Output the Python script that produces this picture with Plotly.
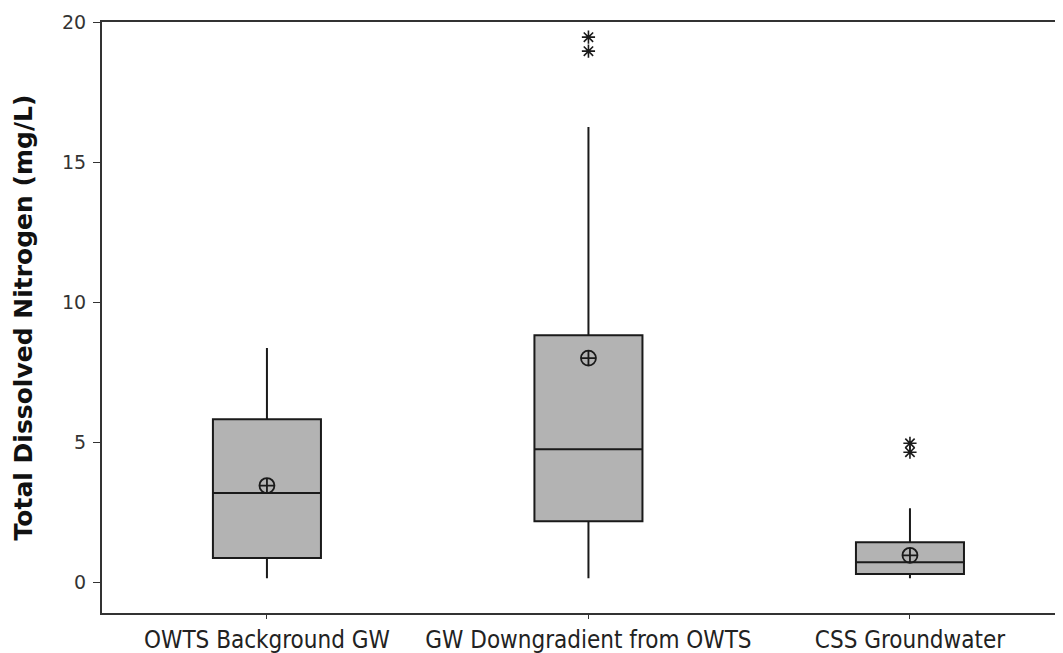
import plotly.graph_objects as go

categories = ["OWTS Background GW", "GW Downgradient from OWTS", "CSS Groundwater"]
positions = [0, 1, 2]
lower_whisker = [0.14, 0.14, 0.14]
q1_vals = [0.86, 2.18, 0.29]
median_vals = [3.18, 4.75, 0.71]
q3_vals = [5.82, 8.82, 1.43]
upper_whisker = [8.36, 16.25, 2.64]
mean_vals = [3.45, 8.0, 0.96]
outlier_x = [1, 1, 2, 2]
outlier_y = [19.46, 18.96, 4.96, 4.64]

fig = go.Figure()
fig.add_trace(go.Box(
    x=positions, q1=q1_vals, median=median_vals, q3=q3_vals,
    lowerfence=lower_whisker, upperfence=upper_whisker,
    width=0.336, whiskerwidth=0,
    fillcolor="#b3b3b3", line=dict(color="#1a1a1a", width=2),
    boxpoints=False, showlegend=False, hoverinfo="skip",
))
fig.add_trace(go.Scatter(
    x=positions, y=mean_vals, mode="markers", showlegend=False,
    marker=dict(symbol="circle-cross-open", size=15, color="#1a1a1a",
                line=dict(width=1.8, color="#1a1a1a")),
))
fig.add_trace(go.Scatter(
    x=outlier_x, y=outlier_y, mode="markers", showlegend=False,
    marker=dict(symbol="asterisk-open", size=11, color="#1a1a1a",
                line=dict(width=1.6, color="#1a1a1a")),
))

fig.update_layout(
    width=1055, height=645,
    margin=dict(l=94, r=0, t=14, b=40, autoexpand=False),
    paper_bgcolor="white", plot_bgcolor="white",
    font=dict(family="DejaVu Sans", color="#333333"),
)
fig.update_xaxes(
    range=[-0.513, 2.476], tickmode="array", tickvals=positions, ticktext=categories,
    showgrid=False, zeroline=False, showline=True, linecolor="#333333", linewidth=2,
    mirror=True, ticks="outside", ticklen=4, tickcolor="#333333", tickwidth=1,
    tickangle=0,
    tickfont=dict(family="DejaVu Sans Condensed", size=24, color="#222222"),
    automargin=False,
)
fig.update_yaxes(
    range=[-1.1, 20], tickvals=[0, 5, 10, 15, 20],
    showgrid=False, zeroline=False, showline=True, linecolor="#333333", linewidth=2,
    mirror=False, ticks="outside", ticklen=7, tickcolor="#333333", tickwidth=1,
    ticklabelstandoff=3,
    tickfont=dict(family="DejaVu Sans", size=19, color="#333333"),
    title=dict(text="<b>Total Dissolved Nitrogen (mg/L)</b>",
               font=dict(family="DejaVu Sans", size=25, color="#111111"), standoff=22),
    automargin=False,
)

fig.write_html("out.html")
